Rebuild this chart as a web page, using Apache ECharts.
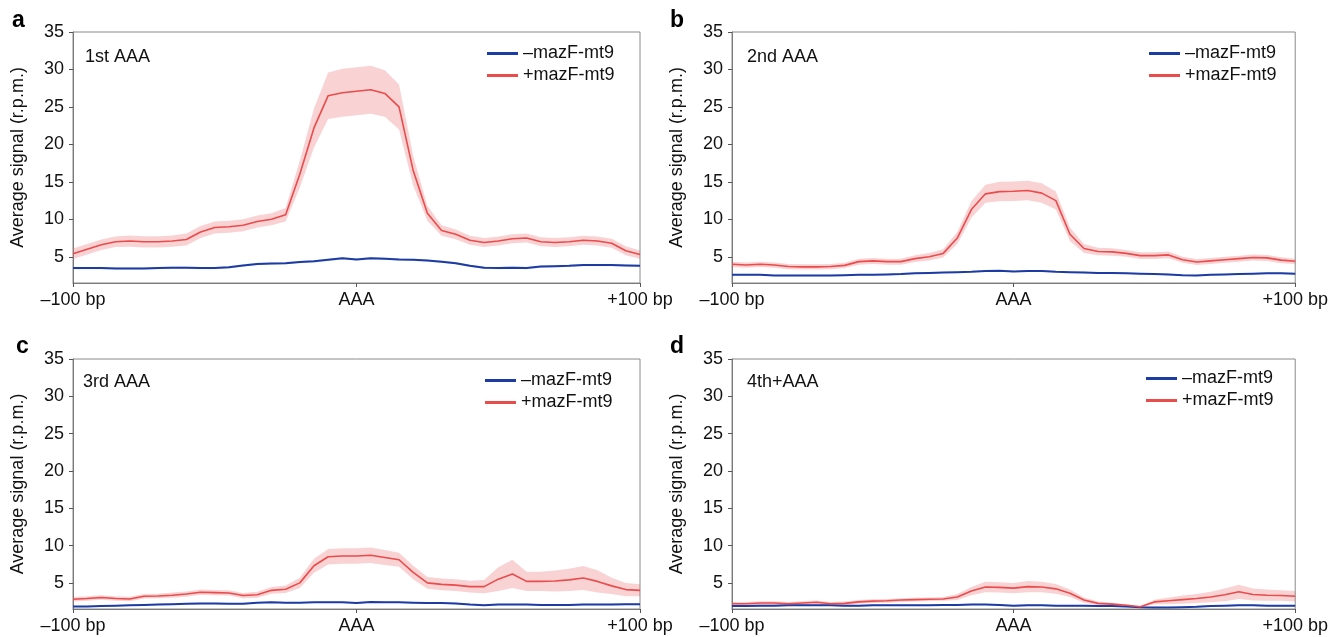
<!DOCTYPE html>
<html><head><meta charset="utf-8">
<script src="https://cdn.jsdelivr.net/npm/echarts@6/dist/echarts.min.js"></script>
<style>html,body{margin:0;padding:0;background:#fff}#c{width:1331px;height:637px}</style>
</head><body><div id="c"></div>
<script>
// ---- data ----
const xs = [-100,-95,-90,-85,-80,-75,-70,-65,-60,-55,-50,-45,-40,-35,-30,-25,-20,-15,-10,-5,0,5,10,15,20,25,30,35,40,45,50,55,60,65,70,75,80,85,90,95,100];
const xTickValues = [-100, 0, 100];
const xTickLabels = ['\u2013100 bp', 'AAA', '+100 bp'];
const yTickValues = [5, 10, 15, 20, 25, 30, 35];
const panelLetters = ['a', 'b', 'c', 'd'];
const panelTitles = ['1st AAA', '2nd AAA', '3rd AAA', '4th+AAA'];
const seriesNames = ['\u2013mazF-mt9', '+mazF-mt9'];

const aBlue = [3.5,3.5,3.5,3.45,3.45,3.45,3.5,3.55,3.55,3.5,3.5,3.6,3.85,4.05,4.1,4.15,4.3,4.4,4.6,4.8,4.65,4.8,4.75,4.65,4.6,4.5,4.35,4.15,3.8,3.55,3.5,3.55,3.5,3.7,3.75,3.8,3.9,3.9,3.9,3.85,3.8];
const aRed = [5.4,6.0,6.6,7.0,7.1,7.0,7.0,7.1,7.3,8.3,8.9,9.0,9.2,9.7,10.0,10.6,16.0,22.2,26.5,26.9,27.1,27.3,26.8,25.0,16.5,10.8,8.5,8.0,7.2,6.9,7.1,7.4,7.5,7.0,6.9,7.0,7.2,7.1,6.8,5.8,5.3];
const aRedErr = [0.7,0.7,0.7,0.7,0.75,0.75,0.75,0.75,0.8,0.8,0.8,0.8,0.8,0.8,0.8,0.9,1.8,2.6,3.1,3.2,3.2,3.2,3.1,3.0,2.0,1.0,0.7,0.65,0.6,0.6,0.6,0.6,0.6,0.6,0.6,0.6,0.6,0.6,0.6,0.6,0.55];

const bBlue = [2.6,2.6,2.6,2.5,2.5,2.5,2.5,2.5,2.55,2.6,2.6,2.65,2.7,2.8,2.85,2.9,2.95,3.0,3.1,3.15,3.05,3.1,3.1,3.0,2.95,2.9,2.85,2.85,2.8,2.75,2.7,2.65,2.55,2.5,2.6,2.65,2.7,2.75,2.8,2.8,2.75];
const bRed = [4.0,3.9,4.0,3.9,3.7,3.65,3.65,3.7,3.85,4.35,4.45,4.35,4.35,4.75,5.0,5.45,7.5,11.3,13.4,13.7,13.75,13.85,13.5,12.5,8.0,6.1,5.7,5.65,5.45,5.15,5.15,5.25,4.6,4.3,4.45,4.6,4.75,4.9,4.85,4.55,4.4];
const bRedErr = [0.35,0.35,0.35,0.35,0.35,0.35,0.35,0.35,0.35,0.4,0.4,0.4,0.4,0.45,0.5,0.55,0.8,1.1,1.2,1.3,1.3,1.3,1.3,1.2,0.9,0.6,0.5,0.5,0.45,0.45,0.45,0.45,0.4,0.4,0.4,0.4,0.4,0.4,0.4,0.4,0.35];

const cBlue = [1.85,1.85,1.9,1.95,2.0,2.05,2.1,2.15,2.2,2.25,2.25,2.2,2.2,2.35,2.4,2.35,2.35,2.4,2.4,2.4,2.3,2.45,2.4,2.4,2.35,2.3,2.3,2.25,2.1,2.0,2.1,2.1,2.1,2.05,2.05,2.05,2.1,2.1,2.1,2.15,2.15];
const cRed = [2.8,2.9,3.05,2.9,2.85,3.2,3.25,3.35,3.5,3.75,3.7,3.65,3.3,3.4,4.0,4.15,5.0,7.3,8.5,8.6,8.6,8.7,8.4,8.1,6.4,5.0,4.8,4.7,4.5,4.5,5.5,6.2,5.2,5.2,5.25,5.4,5.65,5.2,4.6,4.1,4.0];
const cRedErr = [0.3,0.3,0.3,0.3,0.3,0.3,0.3,0.35,0.35,0.35,0.35,0.35,0.35,0.4,0.45,0.5,0.7,0.95,1.05,1.05,1.05,1.05,1.0,0.95,0.9,0.8,0.8,0.8,0.8,0.9,1.6,1.9,1.3,1.3,1.4,1.5,1.6,1.5,1.1,0.9,0.8];

const dBlue = [1.9,1.9,1.95,1.95,2.0,2.0,2.0,2.0,1.95,1.95,2.0,2.0,2.0,2.0,2.0,2.05,2.05,2.1,2.1,2.05,1.95,2.0,2.0,1.95,1.95,1.95,1.9,1.9,1.85,1.75,1.7,1.7,1.75,1.8,1.9,1.95,2.0,2.0,1.95,1.95,1.95];
const dRed = [2.2,2.2,2.3,2.3,2.2,2.3,2.4,2.2,2.25,2.45,2.55,2.6,2.7,2.75,2.8,2.85,3.1,3.9,4.45,4.4,4.3,4.5,4.45,4.2,3.6,2.7,2.25,2.15,2.0,1.8,2.45,2.6,2.75,2.9,3.1,3.4,3.8,3.45,3.35,3.3,3.2];
const dRedErr = [0.25,0.25,0.25,0.25,0.25,0.25,0.25,0.25,0.25,0.25,0.25,0.25,0.25,0.25,0.25,0.25,0.4,0.55,0.7,0.7,0.7,0.75,0.7,0.65,0.5,0.35,0.25,0.2,0.15,0.1,0.3,0.45,0.55,0.6,0.7,0.85,0.95,0.8,0.75,0.7,0.7];

const blueErr = [0.15, 0.1, 0.1, 0.1];

// ---- chart ----
const FONT = "'Liberation Sans', Arial, Helvetica, sans-serif";
const BLUE = '#1c3ba3';
const RED = '#ea4b4b';
const panels = [
  {blue: aBlue, red: aRed, redErr: aRedErr},
  {blue: bBlue, red: bRed, redErr: bRedErr},
  {blue: cBlue, red: cRed, redErr: cRedErr},
  {blue: dBlue, red: dRed, redErr: dRedErr}
];
const layout = [
  {left: 73, top: 32, width: 567, height: 251, legL: 487, legT: 43, lx: 12, ly: 21, tx: 85, ty: 57},
  {left: 732, top: 32, width: 566, height: 251, legL: 1149, legT: 43, lx: 670, ly: 21, tx: 747, ty: 57},
  {left: 73, top: 359, width: 567, height: 250, legL: 485, legT: 370, lx: 16, ly: 347, tx: 83, ty: 382},
  {left: 732, top: 359, width: 566, height: 250, legL: 1146, legT: 368, lx: 670, ly: 347, tx: 747, ty: 382}
];

const grids = [], xAxes = [], yAxes = [], series = [], legends = [], graphics = [];

function bandSeries(i, vals, errs, color) {
  const pts = xs.map((x, j) => [x, vals[j] - errs[j], vals[j] + errs[j]]);
  return {
    type: 'custom', xAxisIndex: i, yAxisIndex: i, silent: true, z: 1,
    data: pts,
    encode: {x: 0, y: [1, 2]},
    renderItem: function (params, api) {
      if (params.dataIndex !== 0) return null;
      const up = pts.map(p => api.coord([p[0], p[2]]));
      const lo = pts.map(p => api.coord([p[0], p[1]])).reverse();
      return {type: 'polygon', shape: {points: up.concat(lo)}, style: {fill: color}};
    }
  };
}

panels.forEach((p, i) => {
  const L = layout[i];
  grids.push({left: L.left, top: L.top, width: L.width, height: L.height, show: true, borderColor: '#8a8a8a', borderWidth: 1, containLabel: false});
  xAxes.push({
    type: 'value', gridIndex: i, min: -100, max: 100, interval: 100,
    axisLine: {show: true, onZero: false, lineStyle: {color: '#7a7a7a', width: 1}},
    axisTick: {show: true, length: 4, lineStyle: {color: '#555'}},
    splitLine: {show: false},
    axisLabel: {
      margin: 8, fontSize: 18, color: '#111', fontFamily: FONT,
      formatter: v => { const k = xTickValues.indexOf(v); return k >= 0 ? xTickLabels[k] : ''; }
    }
  });
  yAxes.push({
    type: 'value', gridIndex: i, min: 1.5, max: 35,
    name: 'Average signal (r.p.m.)', nameLocation: 'middle', nameGap: 46,
    nameTextStyle: {fontSize: 18, color: '#111', fontFamily: FONT},
    axisLine: {show: true, onZero: false, lineStyle: {color: '#7a7a7a', width: 1}},
    axisTick: {show: true, length: 4, lineStyle: {color: '#555'}, customValues: yTickValues},
    splitLine: {show: false},
    axisLabel: {margin: 9, fontSize: 18, color: '#111', fontFamily: FONT, customValues: yTickValues,
      formatter: v => (yTickValues.indexOf(v) >= 0 ? String(v) : '')}
  });
  series.push(bandSeries(i, p.red, p.redErr, 'rgba(234,90,95,0.27)'));
  series.push(bandSeries(i, p.blue, xs.map(() => blueErr[i]), 'rgba(40,70,180,0.18)'));
  series.push({
    name: seriesNames[0], type: 'line', xAxisIndex: i, yAxisIndex: i, showSymbol: false, symbol: 'none', z: 3,
    data: xs.map((x, j) => [x, p.blue[j]]), color: BLUE, lineStyle: {color: BLUE, width: 2}
  });
  series.push({
    name: seriesNames[1], type: 'line', xAxisIndex: i, yAxisIndex: i, showSymbol: false, symbol: 'none', z: 4,
    data: xs.map((x, j) => [x, p.red[j]]), color: RED, lineStyle: {color: RED, width: 1.6}
  });
  legends.push({
    left: L.legL, top: L.legT, padding: 0, orient: 'vertical', icon: 'rect', itemWidth: 31, itemHeight: 3, itemGap: 1,
    selectedMode: false, data: seriesNames,
    textStyle: {fontSize: 18, lineHeight: 21, color: '#111', fontFamily: FONT}
  });
  graphics.push({type: 'text', x: L.lx, y: L.ly, style: {text: panelLetters[i], fontSize: 23, fontWeight: 'bold', fill: '#000', fontFamily: FONT, verticalAlign: 'middle'}});
  graphics.push({type: 'text', x: L.tx, y: L.ty, style: {text: panelTitles[i], fontSize: 18, fill: '#111', fontFamily: FONT, verticalAlign: 'middle'}});
});

const chart = echarts.init(document.getElementById('c'), null, {renderer: 'canvas'});
chart.setOption({
  animation: false,
  backgroundColor: '#fff',
  textStyle: {fontFamily: FONT},
  grid: grids, xAxis: xAxes, yAxis: yAxes, series: series, legend: legends, graphic: graphics
});
</script></body></html>
